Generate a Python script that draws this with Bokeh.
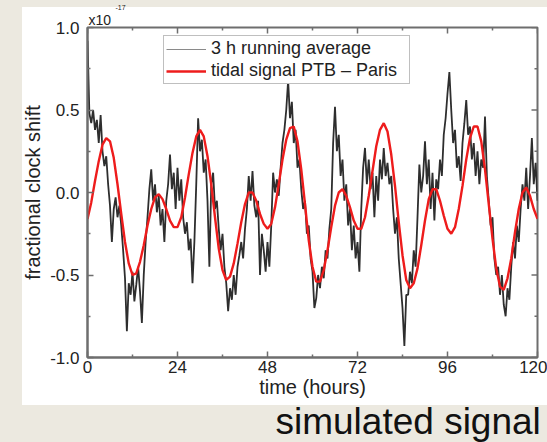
from bokeh.plotting import figure
from bokeh.models import Range1d, FixedTicker, Legend, LegendItem, Title, ColumnDataSource
from bokeh.embed import file_html
from bokeh.resources import INLINE

# ---- data -------------------------------------------------------------
# 3 h running average of the clock comparison, sampled every 0.5 h
avg_hours = [i * 0.5 for i in range(241)]
avg_shift = [
    0.92, 0.48, 0.42, 0.50, 0.38, 0.44, 0.30, 0.47, 0.25, 0.16,
    0.22, 0.05, -0.08, -0.30, -0.10, -0.03, -0.15, -0.08, -0.20, -0.35,
    -0.52, -0.84, -0.55, -0.62, -0.48, -0.66, -0.56, -0.45, -0.60, -0.79,
    -0.50, -0.30, -0.15, 0.02, 0.14, -0.05, 0.05, -0.12, -0.02, -0.20,
    -0.10, -0.30, -0.05, 0.05, 0.23, 0.02, 0.12, -0.10, 0.15, -0.05,
    0.08, -0.15, -0.25, -0.18, -0.35, -0.28, -0.55, -0.30, 0.05, 0.45,
    0.25, 0.32, 0.12, 0.20, -0.05, -0.45, 0.05, 0.12, -0.10, -0.05,
    -0.22, -0.35, -0.25, -0.45, -0.55, -0.72, -0.58, -0.65, -0.50, -0.62,
    -0.45, -0.38, -0.30, -0.40, -0.22, -0.10, 0.10, -0.05, 0.13, -0.08,
    -0.15, -0.05, -0.50, -0.25, -0.35, -0.48, -0.30, -0.45, -0.20, 0.12,
    0.00, 0.08, -0.02, 0.15, 0.30, 0.38, 0.50, 0.68, 0.45, 0.55,
    0.30, 0.38, 0.15, 0.20, 0.02, -0.10, -0.05, -0.25, -0.20, -0.40,
    -0.48, -0.70, -0.64, -0.50, -0.58, -0.45, -0.52, -0.35, -0.40, -0.22,
    -0.10, 0.30, 0.52, 0.25, 0.35, 0.10, 0.20, -0.05, 0.05, -0.20,
    -0.10, -0.35, -0.20, -0.40, -0.30, -0.48, -0.10, 0.15, 0.27, 0.05,
    0.20, 0.02, 0.12, -0.15, 0.10, -0.05, 0.20, 0.08, 0.27, 0.10,
    0.18, 0.05, 0.10, -0.10, -0.25, -0.15, -0.40, -0.55, -0.70, -0.93,
    -0.62, -0.62, -0.48, -0.55, -0.35, -0.45, -0.15, 0.17, 0.00, 0.10,
    0.31, 0.05, 0.20, -0.10, 0.12, -0.17, 0.08, 0.02, 0.20, 0.10,
    0.35, 0.45, 0.60, 0.73, 0.50, 0.30, 0.38, 0.15, 0.22, 0.07,
    0.30, 0.42, 0.56, 0.35, 0.40, 0.20, 0.30, 0.10, 0.25, 0.05,
    0.20, 0.15, 0.46, 0.10, -0.05, -0.20, -0.15, -0.40, -0.50, -0.45,
    -0.62, -0.50, -0.68, -0.75, -0.58, -0.65, -0.45, -0.30, -0.40, -0.20,
    -0.30, -0.10, 0.05, -0.05, 0.15, -0.10, 0.10, 0.33, 0.05, 0.18,
    -0.05,
]

# tidal signal PTB - Paris, sampled every hour
tide_hours = list(range(121))
tide_shift = [
    -0.16, -0.06, 0.07, 0.19, 0.29, 0.33, 0.31, 0.21, 0.05, -0.13,
    -0.30, -0.43, -0.50, -0.49, -0.42, -0.32, -0.20, -0.10, -0.03, -0.01,
    -0.04, -0.10, -0.17, -0.21, -0.21, -0.15, -0.03, 0.11, 0.24, 0.34,
    0.38, 0.34, 0.22, 0.05, -0.15, -0.34, -0.47, -0.53, -0.51, -0.43,
    -0.31, -0.18, -0.07, 0.00, 0.00, -0.05, -0.13, -0.19, -0.22, -0.19,
    -0.09, 0.05, 0.20, 0.32, 0.39, 0.40, 0.31, 0.14, -0.07, -0.29,
    -0.45, -0.54, -0.54, -0.47, -0.35, -0.21, -0.08, 0.00, 0.02, -0.02,
    -0.09, -0.17, -0.22, -0.22, -0.15, -0.02, 0.13, 0.28, 0.38, 0.42,
    0.37, 0.23, 0.04, -0.18, -0.38, -0.53, -0.58, -0.55, -0.46, -0.32,
    -0.17, -0.04, 0.02, 0.02, -0.05, -0.14, -0.22, -0.25, -0.21, -0.10,
    0.04, 0.20, 0.33, 0.40, 0.40, 0.31, 0.14, -0.07, -0.28, -0.46,
    -0.57, -0.59, -0.52, -0.40, -0.24, -0.10, 0.00, 0.03, -0.02, -0.10,
    -0.16,
]

x_ticks = [0, 24, 48, 72, 96, 120]
x_minor = [12, 36, 60, 84, 108]
y_ticks = [-1.0, -0.5, 0.0, 0.5, 1.0]
y_tick_labels = ["-1.0", "-0.5", "0.0", "0.5", "1.0"]
y_minor = [-0.75, -0.25, 0.25, 0.75]

series_labels = ["3 h running average", "tidal signal PTB \u2013 Paris"]
scale_base, scale_exp = "x10", "-17"
caption = "simulated signal"

BEIGE = "#ECE9E0"
AXIS = "#6e6e6e"
INK = "#222222"
FONT = "Liberation Sans"

x0, x1 = 0, 120
y0, y1 = -1.0, 1.0

# ---- figure -------------------------------------------------------------
# The canvas is transparent outside the frame; the page element paints the
# beige slide with a white panel behind the chart.
p = figure(width=547, height=442, x_range=Range1d(x0, x1), y_range=Range1d(y0, y1),
           toolbar_location=None, output_backend="svg",
           min_border_left=87, min_border_right=10, min_border_top=27, min_border_bottom=85,
           background_fill_color="white", border_fill_alpha=0,
           outline_line_color=AXIS, outline_line_width=2)
p.styles = {"background": "linear-gradient(#ffffff, #ffffff) 22px 7px / 525px 398px no-repeat, "
                          + BEIGE}
p.grid.visible = False
p.title.text = ""

# scale factor above the top-left corner: base, then the raised exponent
p.add_layout(Title(text=scale_base, align="left", offset=1, standoff=0,
                   text_font=FONT, text_font_size="14px", text_font_style="normal",
                   text_color=INK), "above")
p.add_layout(Title(text=scale_exp, align="left", offset=28, standoff=0,
                   text_font=FONT, text_font_size="7px", text_font_style="normal",
                   text_color=INK), "above")

avg_src = ColumnDataSource(dict(t=avg_hours, y=avg_shift))
tide_src = ColumnDataSource(dict(t=tide_hours, y=tide_shift))

r_avg = p.line("t", "y", source=avg_src, line_color="#2e2e2e", line_width=1.8)
r_tide = p.line("t", "y", source=tide_src, line_color="#ee1c1c", line_width=2.4)

# legend key for the running average: a thin grey line (a lone NaN point
# draws nothing inside the frame)
avg_key = p.line(x=[x0], y=[float("nan")], line_color="#8a8a8a", line_width=1.2)

# inward tick marks on the top and right edges of the frame
# (half of each dash falls outside the frame and is clipped away)
p.scatter(x_ticks, [y1] * len(x_ticks), marker="dash", angle=1.5708, size=12,
          line_color=AXIS, line_width=1.5)
p.scatter(x_minor, [y1] * len(x_minor), marker="dash", angle=1.5708, size=6,
          line_color=AXIS, line_width=1.5)
p.scatter([x1] * len(y_ticks), y_ticks, marker="dash", size=12,
          line_color=AXIS, line_width=1.5)
p.scatter([x1] * len(y_minor), y_minor, marker="dash", size=6,
          line_color=AXIS, line_width=1.5)

p.xaxis.ticker = FixedTicker(ticks=x_ticks, minor_ticks=x_minor)
p.yaxis.ticker = FixedTicker(ticks=y_ticks, minor_ticks=y_minor)
p.yaxis.major_label_overrides = dict(zip(y_ticks, y_tick_labels))

for ax in p.axis:
    ax.axis_line_color = AXIS
    ax.axis_line_width = 2
    ax.major_tick_line_color = AXIS
    ax.minor_tick_line_color = AXIS
    ax.major_tick_line_width = 1.5
    ax.minor_tick_line_width = 1.5
    ax.major_tick_in = 6
    ax.major_tick_out = 0
    ax.minor_tick_in = 3
    ax.minor_tick_out = 0
    ax.major_label_text_font = FONT
    ax.major_label_text_font_size = "17px"
    ax.major_label_text_color = INK
    ax.axis_label_text_font = FONT
    ax.axis_label_text_font_style = "normal"
    ax.axis_label_text_font_size = "20px"
    ax.axis_label_text_color = INK

p.xaxis.axis_label = "time (hours)"
p.xaxis.major_label_standoff = 3
p.xaxis.axis_label_standoff = 0
p.yaxis.axis_label = "fractional clock shift"
p.yaxis.major_label_standoff = 8
p.yaxis.axis_label_standoff = 3

legend = Legend(items=[LegendItem(label=series_labels[0], renderers=[avg_key]),
                       LegendItem(label=series_labels[1], renderers=[r_tide])],
                location=(76, 273), padding=2, spacing=1, margin=0,
                label_height=20, glyph_height=20, glyph_width=40, label_standoff=5,
                label_width=196,
                label_text_font=FONT, label_text_font_size="18px",
                label_text_color=INK,
                border_line_color="#808080", border_line_width=1.5,
                background_fill_color="white", background_fill_alpha=1.0)
p.add_layout(legend)

# slide caption underneath the chart panel
p.add_layout(Title(text=caption, align="left", offset=188, standoff=-3,
                   text_font=FONT, text_font_size="37px", text_font_style="normal",
                   text_color="#111111"), "below")

open("out.html", "w").write(file_html(p, INLINE))
